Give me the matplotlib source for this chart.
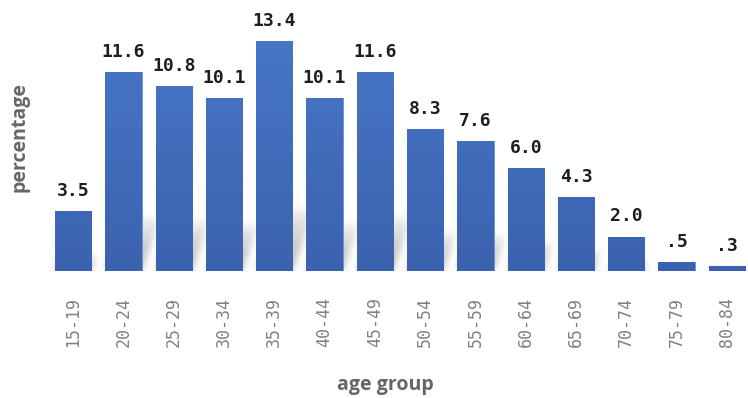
import numpy as np
import matplotlib
matplotlib.use("Agg")
import matplotlib.pyplot as plt
from matplotlib.colors import LinearSegmentedColormap

categories = ["15-19", "20-24", "25-29", "30-34", "35-39", "40-44", "45-49",
              "50-54", "55-59", "60-64", "65-69", "70-74", "75-79", "80-84"]
values = [3.5, 11.6, 10.8, 10.1, 13.4, 10.1, 11.6, 8.3, 7.6, 6.0, 4.3, 2.0, 0.5, 0.3]
x_label = "age group"
y_label = "percentage"


def fmt(v):
    s = f"{v:.1f}"
    return s[1:] if s.startswith("0") else s


W, H = 748, 398
fig = plt.figure(figsize=(W / 100, H / 100), dpi=100)
ax = fig.add_axes([48 / W, 127 / H, 700 / W, 271 / H])

x = np.arange(len(categories))
bar_w = 0.72
XMIN, XMAX = -0.5, 13.42
YMAX = 15.82

# soft perspective shadow behind bars (derived from data)
xs = np.linspace(XMIN, XMAX, 1400)
ys = np.linspace(0, 5, 300)
X, Y = np.meshgrid(xs, ys)
img = np.zeros_like(X)
k = 0.12
for i, v in enumerate(values):
    sh = 0.28 * v
    left = i - bar_w / 2 + k * Y
    right = i + bar_w / 2 + k * Y
    m = (X >= left) & (X <= right) & (Y <= sh)
    val = np.where(m, np.clip(1 - Y / max(sh, 1e-6), 0, 1) ** 0.6, 0)
    img = np.maximum(img, val)


def gk(sig):
    r = int(3 * sig)
    t = np.arange(-r, r + 1)
    g = np.exp(-0.5 * (t / sig) ** 2)
    return g / g.sum()


kx, ky = gk(7), gk(12)
img = np.apply_along_axis(lambda r: np.convolve(r, kx, mode="same"), 1, img)
img = np.apply_along_axis(lambda c: np.convolve(c, ky, mode="same"), 0, img)
rgba = np.zeros(img.shape + (4,))
rgba[..., :3] = 0.45
rgba[..., 3] = np.clip(img * 0.5, 0, 1)
ax.imshow(rgba, extent=[XMIN, XMAX, 0, 5], origin="lower", aspect="auto",
          zorder=1, interpolation="bilinear")

# bars with vertical gradient
bars = ax.bar(x, values, width=bar_w, color="#4472c4", zorder=2,
              edgecolor="#6a8fd2", linewidth=0.6)
cmap = LinearSegmentedColormap.from_list("g", ["#3b62ae", "#4777c8"])
grad = np.linspace(0, 1, 256).reshape(-1, 1)
for b in bars:
    im = ax.imshow(grad, extent=[b.get_x(), b.get_x() + b.get_width(), 0, 14],
                   origin="lower", aspect="auto", cmap=cmap, zorder=3)
    im.set_clip_path(b)

for i, v in enumerate(values):
    ax.annotate(fmt(v), (i, v), xytext=(0, 11), textcoords="offset points",
                ha="center", va="baseline", fontsize=13, fontweight="bold",
                family="DejaVu Sans Mono", color="#1e1e1e", zorder=5)

ax.set_xlim(XMIN, XMAX)
ax.set_ylim(0, YMAX)
ax.set_xticks(x)
ax.set_xticklabels(categories, rotation=90, family="DejaVu Sans Mono",
                   fontsize=12, color="#808080")
ax.tick_params(axis="x", length=0, pad=19)
ax.set_yticks([])
for s in ax.spines.values():
    s.set_visible(False)

fig.text(385 / W, 1 - 385 / H, x_label, ha="center", va="center",
         fontsize=14, fontweight="bold", family="Open Sans", color="#666666")
fig.text(20 / W, 1 - 137 / H, y_label, ha="center", va="center", rotation=90,
         fontsize=14, fontweight="bold", family="Open Sans", color="#666666")

fig.savefig("out.png", dpi=100)
